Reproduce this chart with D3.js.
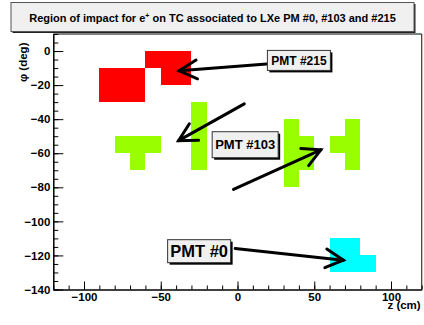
<!DOCTYPE html>
<html>
<head>
<meta charset="utf-8">
<script src="https://cdn.jsdelivr.net/npm/d3@7"></script>
<style>
  body { margin: 0; background: #fff; }
  svg { display: block; font-family: "Liberation Sans", Arial, Helvetica, sans-serif; font-weight: bold; }
</style>
</head>
<body>
<div id="chart"></div>
<script>
// cells hit on the timing counter: [z0, z1, phi0, phi1]
const cellsPmt215 = [[-90, -60, -30, -10], [-60, -30, -10, 0], [-50, -30, -20, -10]];
const cellsPmt103 = [
  [-80, -50, -60, -50], [-70, -60, -70, -60], [-30, -20, -70, -30],
  [30, 40, -80, -40], [40, 50, -70, -50], [60, 70, -60, -50], [70, 80, -70, -40]
];
const cellsPmt0 = [[60, 80, -130, -110], [80, 90, -130, -120]];

// annotation labels: text, z, phi of the box centre
const labelNames = ['PMT #215', 'PMT #103', 'PMT #0'];
const labelZ = [40, 5, -25];
const labelPhi = [-5.5, -55, -117.5];

// arrows: [zStart, phiStart, zTip, phiTip]
const arrows = [
  [19, -7.6, -38, -11.6],
  [4.4, -31, -38.4, -52.6],
  [-2.6, -81.2, 54.3, -58],
  [-1.5, -115.9, 69, -122.8]
];

const xMajor = [-100, -50, 0, 50, 100];
const xMinor = d3.range(-120, 121, 10);
const yMajor = [0, -20, -40, -60, -80, -100, -120, -140];
const yMinor = d3.range(-140, 11, 5);

const W = 424, H = 325;
const svg = d3.select('#chart').append('svg').attr('width', W).attr('height', H);

const x = d3.scaleLinear().domain([-120, 120]).range([53.3, 421.7]);
const y = d3.scaleLinear().domain([-140, 10]).range([289.5, 34]);

// frame
svg.append('line').attr('x1', x(120)).attr('x2', x(120)).attr('y1', y(10)).attr('y2', y(-140))
  .attr('stroke', '#6b1f1f').attr('stroke-width', 1.2);
svg.append('line').attr('x1', x(-120)).attr('x2', x(120)).attr('y1', y(10)).attr('y2', y(10))
  .attr('stroke', '#000').attr('stroke-width', 1);

// cells
const drawCells = (data, color) => {
  svg.append('g').selectAll('rect').data(data).enter().append('rect')
    .attr('x', d => x(d[0]))
    .attr('y', d => y(d[3]))
    .attr('width', d => x(d[1]) - x(d[0]))
    .attr('height', d => y(d[2]) - y(d[3]))
    .attr('fill', color)
    .attr('shape-rendering', 'crispEdges');
};
drawCells(cellsPmt215, '#ff0000');
drawCells(cellsPmt103, '#99ff00');
drawCells(cellsPmt0, '#00ffff');

// axes
const styleAxis = g => {
  g.select('.domain').attr('stroke', '#000').attr('stroke-width', 1.5);
  g.selectAll('.tick line').attr('stroke', '#000').attr('stroke-width', 1);
  g.selectAll('.tick text').attr('fill', '#000').attr('font-size', 11.5).attr('font-weight', 'bold')
    .attr('font-family', '"Liberation Sans", Arial, sans-serif');
};

svg.append('g').attr('transform', `translate(0,${y(-140)})`)
  .call(d3.axisBottom(x).tickValues(xMinor).tickSize(-4).tickSizeOuter(0).tickFormat(''))
  .call(g => { g.select('.domain').remove(); g.selectAll('.tick line').attr('stroke', '#000'); });
svg.append('g').attr('transform', `translate(0,${y(-140)})`)
  .call(d3.axisBottom(x).tickValues(xMajor).tickSize(-8).tickSizeOuter(0).tickPadding(3).tickFormat(d3.format('d')))
  .call(styleAxis);

svg.append('g').attr('transform', `translate(${x(-120)},0)`)
  .call(d3.axisLeft(y).tickValues(yMinor).tickSize(-5).tickSizeOuter(0).tickFormat(''))
  .call(g => { g.select('.domain').remove(); g.selectAll('.tick line').attr('stroke', '#000'); });
svg.append('g').attr('transform', `translate(${x(-120)},0)`)
  .call(d3.axisLeft(y).tickValues(yMajor).tickSize(-10).tickSizeOuter(0).tickPadding(3).tickFormat(d3.format('d')))
  .call(styleAxis);

// axis titles
svg.append('text').attr('x', x(120) - 1).attr('y', 309).attr('text-anchor', 'end')
  .attr('font-size', 11.5).text('z (cm)');
svg.append('text').attr('transform', `translate(27,${y(5)}) rotate(-90)`).attr('text-anchor', 'end')
  .attr('font-size', 11.5).text('\u03c6 (deg)');

// arrows
const headLen = 20, headAng = 28 * Math.PI / 180;
const arrowG = svg.append('g').attr('stroke', '#000').attr('stroke-width', 3).attr('fill', 'none')
  .attr('stroke-linecap', 'round');
arrows.forEach(a => {
  const x0 = x(a[0]), y0 = y(a[1]), x1 = x(a[2]), y1 = y(a[3]);
  const ang = Math.atan2(y0 - y1, x0 - x1);
  arrowG.append('line').attr('x1', x0).attr('y1', y0).attr('x2', x1).attr('y2', y1);
  const p1 = [x1 + headLen * Math.cos(ang + headAng), y1 + headLen * Math.sin(ang + headAng)];
  const p2 = [x1 + headLen * Math.cos(ang - headAng), y1 + headLen * Math.sin(ang - headAng)];
  arrowG.append('path').attr('d', `M${p1[0]},${p1[1]}L${x1},${y1}L${p2[0]},${p2[1]}`)
    .attr('stroke-linejoin', 'miter');
});

// label boxes
const labelSize = [12, 13, 16.5];
const labelBox = [[63, 20], [66, 26], [63, 23]];
labelNames.forEach((name, i) => {
  const cx = x(labelZ[i]), cy = y(labelPhi[i]);
  const [bw, bh] = labelBox[i];
  const g = svg.append('g');
  g.append('rect').attr('x', cx - bw / 2 + 2).attr('y', cy - bh / 2 + 2).attr('width', bw).attr('height', bh)
    .attr('fill', '#000');
  g.append('rect').attr('x', cx - bw / 2).attr('y', cy - bh / 2).attr('width', bw).attr('height', bh)
    .attr('fill', '#f0f0f0').attr('stroke', '#333').attr('stroke-width', 1);
  g.append('text').attr('x', cx).attr('y', cy).attr('dy', '0.36em').attr('text-anchor', 'middle')
    .attr('font-size', labelSize[i]).attr('fill', '#000').text(name);
});

// title box
const tg = svg.append('g');
tg.append('rect').attr('x', 12.5).attr('y', 4).attr('width', 403).attr('height', 29).attr('fill', '#222');
tg.append('rect').attr('x', 11).attr('y', 2.5).attr('width', 403).attr('height', 29)
  .attr('fill', '#f0f0f0').attr('stroke', '#555').attr('stroke-width', 1);
const title = tg.append('text').attr('x', 212.5).attr('y', 21.5).attr('text-anchor', 'middle')
  .attr('font-size', 11).attr('fill', '#000');
title.append('tspan').text('Region of impact for e');
title.append('tspan').attr('font-size', 7).attr('dy', -4).text('+');
title.append('tspan').attr('dy', 4).text(' on TC associated to LXe PM #0, #103 and #215');
</script>
</body>
</html>
